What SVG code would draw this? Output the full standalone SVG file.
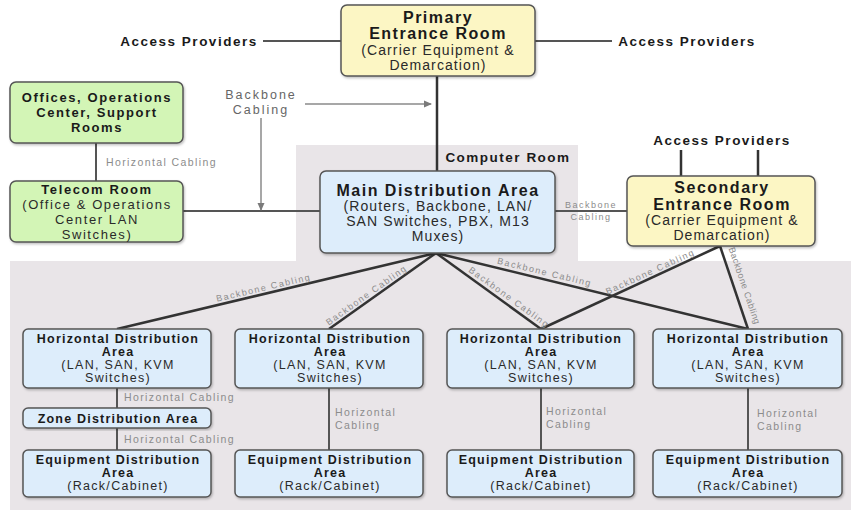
<svg xmlns="http://www.w3.org/2000/svg" width="858" height="522" viewBox="0 0 858 522">
<defs>
<style>
text{font-family:"Liberation Sans",Arial,Helvetica,sans-serif;text-anchor:middle;fill:#1a1a1a}
.box{stroke:#555;stroke-width:1.5}
.y{fill:#fcf6c4}.g{fill:#d3f5b6}.b{fill:#ddedfb}
.t1{font-weight:bold;font-size:16px;letter-spacing:1.5px}
.r1{font-size:14px;letter-spacing:1.1px;fill:#2a2a2a}
.t2{font-weight:bold;font-size:13px;letter-spacing:1.6px}
.r2{font-size:13px;letter-spacing:1.6px;fill:#2a2a2a}
.t3{font-weight:bold;font-size:12.5px;letter-spacing:1.2px}
.r3{font-size:12.5px;letter-spacing:1.3px;fill:#2a2a2a}
.ap{font-weight:bold;font-size:13.5px;letter-spacing:1.5px}
.lbl{font-size:10.5px;letter-spacing:1.4px;fill:#8c8c8c;text-anchor:start}
.bb{font-size:9px;letter-spacing:1.5px;fill:#8c8c8c}
.bbtop{font-size:12.5px;letter-spacing:2px;fill:#666}
.c{stroke:#333;stroke-width:2.5;fill:none}
.h{stroke:#555;stroke-width:2;fill:none}
.a{stroke:#8a8a8a;stroke-width:1.5;fill:none}
</style>
<marker id="arr" markerWidth="8" markerHeight="8" refX="7" refY="4" orient="auto" markerUnits="userSpaceOnUse">
<path d="M0,0.5 L8,4 L0,7.5 Z" fill="#7a7a7a"/>
</marker>
<filter id="sh" x="-5%" y="-5%" width="115%" height="120%">
<feDropShadow dx="1" dy="1.5" stdDeviation="1" flood-color="#000" flood-opacity="0.25"/>
</filter>
</defs>

<g id="background">
<path d="M296,145 H578 V261 H851 V510 H10 V261 H296 Z" fill="#e9e5e8"/>
<text class="ap" x="508" y="162">Computer Room</text>
</g>

<g id="connectors">
<line class="h" x1="263" y1="41" x2="341" y2="41"/>
<line class="h" x1="535" y1="41" x2="612" y2="41"/>
<line class="c" x1="437" y1="76" x2="437" y2="171"/>
<line class="h" x1="96" y1="143" x2="96" y2="181"/>
<line class="h" x1="183" y1="211" x2="320" y2="211"/>
<line class="h" x1="555" y1="211" x2="627" y2="211"/>
<line class="c" x1="681" y1="150" x2="681" y2="176"/>
<line class="c" x1="758" y1="150" x2="758" y2="176"/>
<line class="a" x1="305" y1="104" x2="431" y2="104" marker-end="url(#arr)"/>
<line class="a" x1="261" y1="118" x2="261" y2="210" marker-end="url(#arr)"/>
<line class="c" x1="436" y1="253" x2="117" y2="329"/>
<line class="c" x1="436" y1="253" x2="329" y2="329"/>
<line class="c" x1="436" y1="253" x2="541" y2="329"/>
<line class="c" x1="436" y1="253" x2="748" y2="329"/>
<line class="c" x1="720" y1="246" x2="541" y2="329"/>
<line class="c" x1="720" y1="246" x2="748" y2="329"/>
<line class="h" x1="117" y1="388" x2="117" y2="408"/>
<line class="h" x1="117" y1="428" x2="117" y2="450"/>
<line class="h" x1="329" y1="388" x2="329" y2="450"/>
<line class="h" x1="541" y1="388" x2="541" y2="450"/>
<line class="h" x1="748" y1="388" x2="748" y2="450"/>
<text class="ap" x="189" y="46">Access Providers</text>
<text class="ap" x="687" y="46">Access Providers</text>
<text class="ap" x="722" y="145">Access Providers</text>
<text class="bbtop" x="261" y="99">Backbone</text>
<text class="bbtop" x="261" y="114">Cabling</text>
<text class="lbl" x="106" y="166">Horizontal Cabling</text>
<text class="bb" x="591" y="208">Backbone</text>
<text class="bb" x="591" y="220">Cabling</text>
<text class="bb" transform="translate(265,293.7) rotate(-13.2)" y="-3">Backbone Cabling</text>
<text class="bb" transform="translate(370,300) rotate(-35.4)" y="-3">Backbone Cabling</text>
<text class="bb" transform="translate(505,303) rotate(35.9)" y="-4">Backbone Cabling</text>
<text class="bb" transform="translate(543,279) rotate(13.7)" y="-4">Backbone Cabling</text>
<text class="bb" transform="translate(653,277.7) rotate(-24.6)" y="-3.5">Backbone Cabling</text>
<text class="bb" transform="translate(735,289) rotate(71.1)" y="-7" style="letter-spacing:0.5px">Backbone Cabling</text>
<text class="lbl" x="124" y="401">Horizontal Cabling</text>
<text class="lbl" x="124" y="443">Horizontal Cabling</text>
<text class="lbl" x="335" y="416">Horizontal</text>
<text class="lbl" x="335" y="429">Cabling</text>
<text class="lbl" x="546" y="415">Horizontal</text>
<text class="lbl" x="546" y="428">Cabling</text>
<text class="lbl" x="757" y="417">Horizontal</text>
<text class="lbl" x="757" y="430">Cabling</text>
</g>

<g id="primary-entrance">
<rect class="box y" x="341" y="5" width="194" height="71" rx="6" filter="url(#sh)"/>
<text class="t1" x="438" y="23">Primary</text>
<text class="t1" x="438" y="39">Entrance Room</text>
<text class="r1" x="438" y="55">(Carrier Equipment &amp;</text>
<text class="r1" x="438" y="70">Demarcation)</text>
</g>

<g id="offices">
<rect class="box g" x="10" y="82" width="173" height="61" rx="6" filter="url(#sh)"/>
<text class="t2" x="97" y="102">Offices, Operations</text>
<text class="t2" x="97" y="117">Center, Support</text>
<text class="t2" x="97" y="132">Rooms</text>
</g>

<g id="telecom-room">
<rect class="box g" x="10" y="181" width="173" height="61" rx="6" filter="url(#sh)"/>
<text class="t2" x="97" y="194">Telecom Room</text>
<text class="r2" x="97" y="209">(Office &amp; Operations</text>
<text class="r2" x="97" y="224">Center LAN</text>
<text class="r2" x="97" y="239">Switches)</text>
</g>

<g id="main-distribution">
<rect class="box b" x="320" y="171" width="235" height="82" rx="6" filter="url(#sh)"/>
<text class="t1" x="438" y="196">Main Distribution Area</text>
<text class="r1" x="438" y="211">(Routers, Backbone, LAN/</text>
<text class="r1" x="438" y="226">SAN Switches, PBX, M13</text>
<text class="r1" x="438" y="241">Muxes)</text>
</g>

<g id="secondary-entrance">
<rect class="box y" x="627" y="176" width="188" height="70" rx="6" filter="url(#sh)"/>
<text class="t1" x="722" y="193">Secondary</text>
<text class="t1" x="722" y="210">Entrance Room</text>
<text class="r1" x="722" y="225">(Carrier Equipment &amp;</text>
<text class="r1" x="722" y="240">Demarcation)</text>
</g>

<g id="hda1">
<rect class="box b" x="23" y="329" width="188" height="59" rx="5" filter="url(#sh)"/>
<text class="t3" x="118" y="343">Horizontal Distribution</text>
<text class="t3" x="118" y="356">Area</text>
<text class="r3" x="118" y="369">(LAN, SAN, KVM</text>
<text class="r3" x="118" y="382">Switches)</text>
</g>
<g id="hda2">
<rect class="box b" x="235" y="329" width="188" height="59" rx="5" filter="url(#sh)"/>
<text class="t3" x="330" y="343">Horizontal Distribution</text>
<text class="t3" x="330" y="356">Area</text>
<text class="r3" x="330" y="369">(LAN, SAN, KVM</text>
<text class="r3" x="330" y="382">Switches)</text>
</g>
<g id="hda3">
<rect class="box b" x="447" y="329" width="187" height="59" rx="5" filter="url(#sh)"/>
<text class="t3" x="541" y="343">Horizontal Distribution</text>
<text class="t3" x="541" y="356">Area</text>
<text class="r3" x="541" y="369">(LAN, SAN, KVM</text>
<text class="r3" x="541" y="382">Switches)</text>
</g>
<g id="hda4">
<rect class="box b" x="653" y="329" width="189" height="59" rx="5" filter="url(#sh)"/>
<text class="t3" x="748" y="343">Horizontal Distribution</text>
<text class="t3" x="748" y="356">Area</text>
<text class="r3" x="748" y="369">(LAN, SAN, KVM</text>
<text class="r3" x="748" y="382">Switches)</text>
</g>

<g id="zone-distribution">
<rect class="box b" x="23" y="408" width="188" height="20" rx="5" filter="url(#sh)"/>
<text class="t3" x="118" y="423">Zone Distribution Area</text>
</g>

<g id="eda1">
<rect class="box b" x="23" y="450" width="188" height="47" rx="5" filter="url(#sh)"/>
<text class="t3" x="118" y="464">Equipment Distribution</text>
<text class="t3" x="118" y="477">Area</text>
<text class="r3" x="118" y="490">(Rack/Cabinet)</text>
</g>
<g id="eda2">
<rect class="box b" x="235" y="450" width="188" height="47" rx="5" filter="url(#sh)"/>
<text class="t3" x="330" y="464">Equipment Distribution</text>
<text class="t3" x="330" y="477">Area</text>
<text class="r3" x="330" y="490">(Rack/Cabinet)</text>
</g>
<g id="eda3">
<rect class="box b" x="447" y="450" width="187" height="47" rx="5" filter="url(#sh)"/>
<text class="t3" x="541" y="464">Equipment Distribution</text>
<text class="t3" x="541" y="477">Area</text>
<text class="r3" x="541" y="490">(Rack/Cabinet)</text>
</g>
<g id="eda4">
<rect class="box b" x="653" y="450" width="189" height="47" rx="5" filter="url(#sh)"/>
<text class="t3" x="748" y="464">Equipment Distribution</text>
<text class="t3" x="748" y="477">Area</text>
<text class="r3" x="748" y="490">(Rack/Cabinet)</text>
</g>
</svg>
